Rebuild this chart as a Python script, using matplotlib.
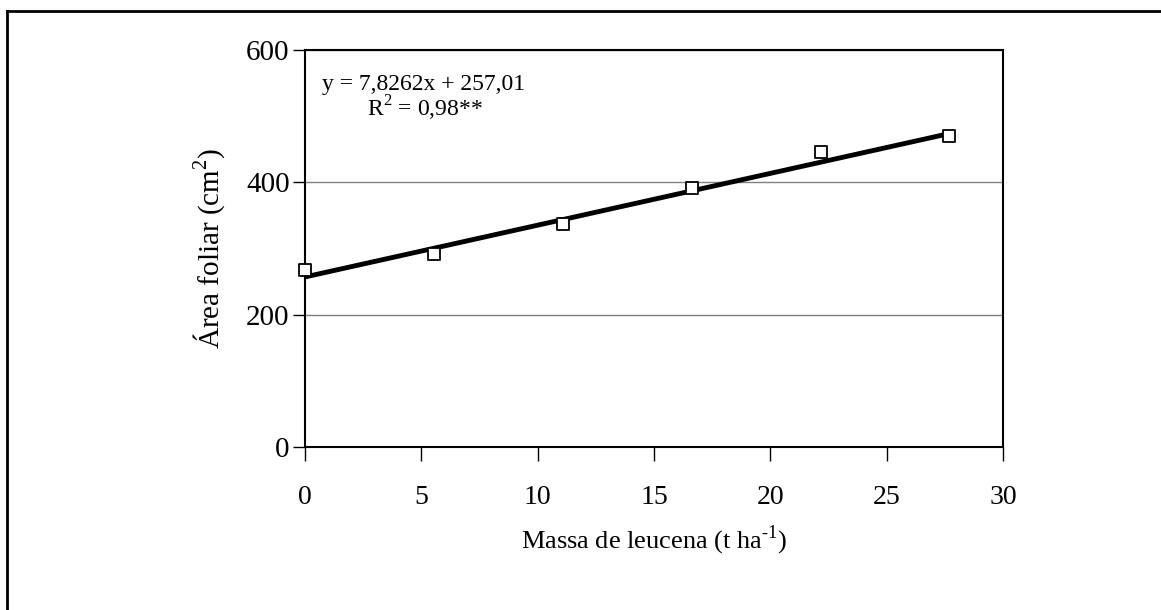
import matplotlib.pyplot as plt
from matplotlib.lines import Line2D

plt.rcParams['font.family'] = ['Liberation Serif', 'DejaVu Serif']
plt.rcParams['mathtext.fontset'] = 'custom'
plt.rcParams['mathtext.rm'] = 'Liberation Serif'

# dados
massa = [0, 5.54, 11.08, 16.62, 22.16, 27.7]
area = [267.5, 291.7, 337.0, 391.9, 445.8, 470.5]
coef_a = 7.8262
coef_b = 257.01
x_ticks = [0, 5, 10, 15, 20, 25, 30]
y_ticks = [0, 200, 400, 600]

fig = plt.figure(figsize=(11.61, 6.10), dpi=100)
ax = fig.add_axes([0.2627, 0.2672, 0.6012, 0.6508])

# borda (apenas topo e esquerda visíveis)
fig.add_artist(Line2D([0.006, 1.0], [0.982, 0.982], transform=fig.transFigure, color='black', lw=2))
fig.add_artist(Line2D([0.006, 0.006], [0.0, 0.982], transform=fig.transFigure, color='black', lw=2))

# linha de regressão
xl = [massa[0], massa[-1]]
yl = [coef_a * v + coef_b for v in xl]
ax.plot(xl, yl, color='black', lw=3.5, zorder=3)
ax.scatter(massa, area, marker='s', s=75, facecolors='white', edgecolors='black', linewidths=1.3, zorder=4, clip_on=False)

ax.set_xlim(0, 30)
ax.set_ylim(0, 600)
ax.set_xticks(x_ticks)
ax.set_yticks(y_ticks)
ax.yaxis.grid(True, color='#808080', lw=1)
ax.set_axisbelow(True)

for s in ax.spines.values():
    s.set_linewidth(1.5)
ax.tick_params(axis='x', direction='out', length=10, width=1, labelsize=20, pad=17)
ax.tick_params(axis='y', direction='out', length=9, width=1, labelsize=21, pad=2)

ax.set_xlabel('Massa de leucena (t ha$^{\u2010 1}$)', fontsize=19, labelpad=10)
ax.set_ylabel('Área foliar (cm$^{2}$)', fontsize=21, labelpad=14)

ax.text(0.025, 0.912, 'y = 7,8262x + 257,01', transform=ax.transAxes, fontsize=17, ha='left', va='center')
ax.text(0.172, 0.852, 'R$^{2}$ = 0,98**', transform=ax.transAxes, fontsize=17, ha='center', va='center')

fig.savefig('out.png', dpi=100)
